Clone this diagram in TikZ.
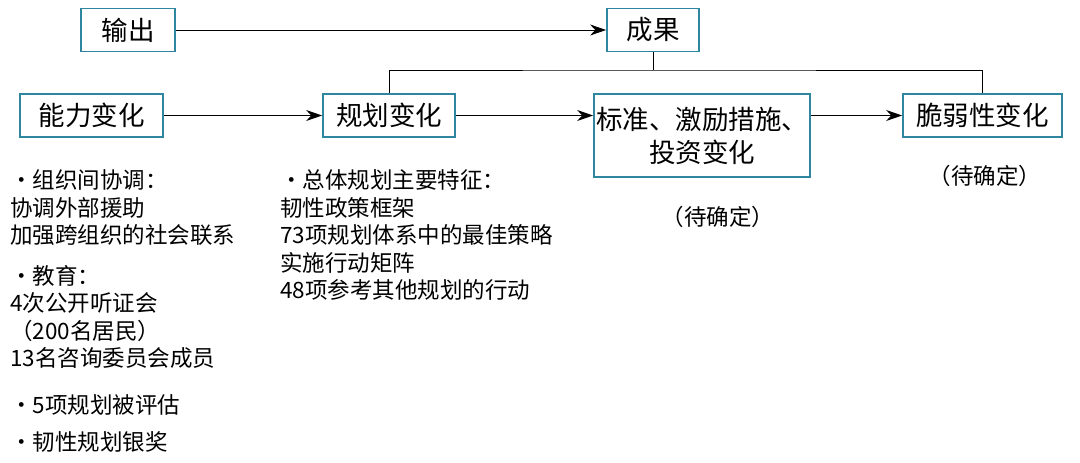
\documentclass[tikz,border=0pt]{standalone}
\usepackage{fontspec}
\setmainfont{Noto Sans CJK SC}
\usetikzlibrary{positioning, arrows.meta}
\definecolor{boxblue}{HTML}{2E86A0}

\begin{document}
\begin{tikzpicture}
	[x=1pt, y=-1pt, box/.style={draw=boxblue, line width=1.8pt, font=\fontsize{26.5}{33}\selectfont, inner sep=0pt, align=center},
	 arr/.style={-{Stealth[length=16pt,width=11pt]}, line width=1pt},
	 lst/.style={anchor=west, font=\fontsize{22.5}{27.5}\selectfont, align=left, inner sep=0pt}]
   \useasboundingbox (0,0) rectangle (1080,463);
   \node[box, minimum width=94pt, minimum height=43pt] (shuchu) at (128,30) {输出};
   \node[box, minimum width=92pt, minimum height=43pt] (chengguo) at (653,30) {成果};
   \node[box, minimum width=143pt, minimum height=43pt] (nengli) at (91.5,115.5) {能力变化};
   \node[box, minimum width=132pt, minimum height=43pt] (guihua) at (389,115.5) {规划变化};
   \node[box, minimum width=216pt, minimum height=83pt] (biaozhun) at (702,135.5) {标准、激励措施、\\投资变化};
   \node[box, minimum width=159pt, minimum height=43pt] (cuiruo) at (982.5,115.5) {脆弱性变化};
   \draw[arr] (shuchu) -- (chengguo);
   \draw[arr] (nengli) -- (guihua);
   \draw[arr] (guihua.east) -- (guihua.east -| biaozhun.west);
   \draw[arr] (guihua.east -| biaozhun.east) -- (cuiruo.west);
   \coordinate (fork) at (653,70);
   \draw[line width=1pt] (chengguo) -- (fork);
   \draw[line width=1pt] (guihua.north) |- (fork) -| (cuiruo.north);
   % lists
   \node[lst] (left1) at (10,208) {・组织间协调：\\协调外部援助\\加强跨组织的社会联系};
   \node[lst] (left2) at (10,317) {・教育：\\4次公开听证会\\（200名居民）\\13名咨询委员会成员};
   \node[lst] (left3) at (10,405) {・5项规划被评估};
   \node[lst] (left4) at (10,442) {・韧性规划银奖};
   \node[lst] (mid1) at (280,235) {・总体规划主要特征：\\韧性政策框架\\73项规划体系中的最佳策略\\实施行动矩阵\\48项参考其他规划的行动};
   \node[lst, anchor=center] (tbd1) at (718,217) {（待确定）};
   \node[lst, anchor=center] (tbd2) at (985,176) {（待确定）};
\end{tikzpicture}
\end{document}
